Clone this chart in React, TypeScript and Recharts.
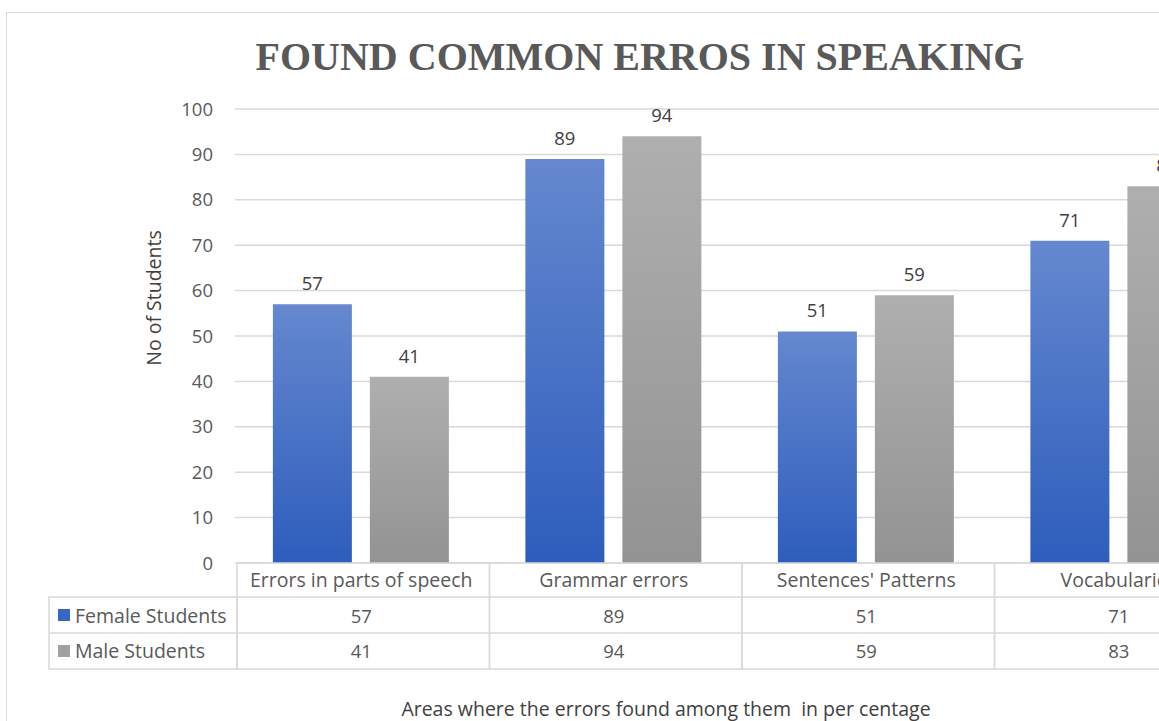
import React from 'react'
import { BarChart, Bar, XAxis, YAxis, CartesianGrid, LabelList } from 'recharts'

const categories = ["Errors in parts of speech", "Grammar errors", "Sentences' Patterns", "Vocabularies"]
const femaleStudents = [57, 89, 51, 71]
const maleStudents = [41, 94, 59, 83]
const yTicks = [0, 10, 20, 30, 40, 50, 60, 70, 80, 90, 100]
const seriesNames = ['Female Students', 'Male Students']

const data = categories.map((name, i) => ({ name, female: femaleStudents[i], male: maleStudents[i] }))

const W = 1300
const H = 721
const PLOT_LEFT = 235
const PLOT_RIGHT = 1245
const PLOT_TOP = 109
const PLOT_BOTTOM = 563
const BAND = (PLOT_RIGHT - PLOT_LEFT) / categories.length
const FONT = '"Open Sans", sans-serif'
const FS = 19.5
const NUM_FS = 18.5
const LINE = '#d9d9d9'
const TEXT = '#595959'

const ROW_HEAD = PLOT_BOTTOM
const ROW_F = 597
const ROW_M = 633
const ROW_END = 669

// draws the data table under the plot, one column per category
const TableTick = ({ x, index, payload }: any) => {
  const left = x - BAND / 2
  return (
    <g>
      {index === 0 && (
        <g>
          <rect x={49} y={ROW_F} width={PLOT_LEFT - 49 + 2} height={ROW_END - ROW_F} fill="none" stroke={LINE} strokeWidth={1.5} />
          <line x1={49} x2={PLOT_LEFT + 2} y1={ROW_M} y2={ROW_M} stroke={LINE} strokeWidth={1.5} />
          <rect x={58} y={609} width={12} height={12} fill="#3a66c4" />
          <rect x={58} y={645} width={12} height={12} fill="#a0a0a0" />
          <text x={75} y={615} dominantBaseline="central" fontSize={FS} fill={TEXT} fontFamily={FONT}>{seriesNames[0]}</text>
          <text x={75} y={650} dominantBaseline="central" fontSize={FS} fill={TEXT} fontFamily={FONT}>{seriesNames[1]}</text>
        </g>
      )}
      <rect x={left + 2} y={ROW_HEAD} width={BAND} height={ROW_END - ROW_HEAD} fill="none" stroke={LINE} strokeWidth={1.5} />
      <line x1={left + 2} x2={left + 2 + BAND} y1={ROW_F} y2={ROW_F} stroke={LINE} strokeWidth={1.5} />
      <line x1={left + 2} x2={left + 2 + BAND} y1={ROW_M} y2={ROW_M} stroke={LINE} strokeWidth={1.5} />
      <text x={x} y={579} textAnchor="middle" dominantBaseline="central" fontSize={FS} fill={TEXT} fontFamily={FONT}>{payload.value}</text>
      <text x={x} y={615} textAnchor="middle" dominantBaseline="central" fontSize={NUM_FS} fill={TEXT} fontFamily={FONT}>{femaleStudents[index]}</text>
      <text x={x} y={650} textAnchor="middle" dominantBaseline="central" fontSize={NUM_FS} fill={TEXT} fontFamily={FONT}>{maleStudents[index]}</text>
    </g>
  )
}

export default function App() {
  return (
    <div style={{ position: 'absolute', left: 0, top: 0, width: 1159, height: 721, overflow: 'hidden', background: '#fff' }}>
      <div style={{ position: 'absolute', left: 6, top: 12, width: 1300, height: 800, border: '1.5px solid #d9d9d9' }} />
      <div style={{ position: 'absolute', left: 0, top: 0 }}>
        <BarChart
          width={W}
          height={H}
          data={data}
          margin={{ top: PLOT_TOP, right: W - PLOT_RIGHT, left: 0, bottom: 0 }}
          barCategoryGap="15%"
          barGap={18}
        >
          <defs>
            <linearGradient id="femaleFill" x1="0" y1="0" x2="0" y2="1">
              <stop offset="0%" stopColor="#6588cf" />
              <stop offset="100%" stopColor="#2d5dbc" />
            </linearGradient>
            <linearGradient id="maleFill" x1="0" y1="0" x2="0" y2="1">
              <stop offset="0%" stopColor="#afafaf" />
              <stop offset="100%" stopColor="#939393" />
            </linearGradient>
          </defs>
          <CartesianGrid vertical={false} stroke={LINE} strokeWidth={1.5} />
          <XAxis
            dataKey="name"
            interval={0}
            height={H - PLOT_BOTTOM}
            axisLine={false}
            tickLine={false}
            tick={<TableTick />}
          />
          <YAxis
            width={PLOT_LEFT}
            domain={[0, 100]}
            ticks={yTicks}
            axisLine={false}
            tickLine={false}
            tickMargin={16}
            tick={{ fontSize: NUM_FS, fill: TEXT, fontFamily: FONT }}
          />
          <Bar dataKey="female" name={seriesNames[0]} fill="url(#femaleFill)" isAnimationActive={false}>
            <LabelList dataKey="female" position="top" offset={14} fontSize={NUM_FS} fill="#404040" fontFamily={FONT} />
          </Bar>
          <Bar dataKey="male" name={seriesNames[1]} fill="url(#maleFill)" isAnimationActive={false}>
            <LabelList dataKey="male" position="top" offset={14} fontSize={NUM_FS} fill="#404040" fontFamily={FONT} />
          </Bar>
          <text x={640} y={56} textAnchor="middle" dominantBaseline="central" fontSize={40} fontWeight="bold" fill={TEXT} fontFamily='"Liberation Serif", "Times New Roman", serif'>
            FOUND COMMON ERROS IN SPEAKING
          </text>
          <text x={153} y={298} textAnchor="middle" dominantBaseline="central" fontSize={FS} fill="#404040" fontFamily={FONT} transform="rotate(-90 153 298)">
            No of Students
          </text>
          <text x={666} y={708} textAnchor="middle" dominantBaseline="central" fontSize={FS} fill="#404040" fontFamily={FONT} style={{ whiteSpace: 'pre' }}>
            {'Areas where the errors found among them  in per centage'}
          </text>
        </BarChart>
      </div>
    </div>
  )
}
